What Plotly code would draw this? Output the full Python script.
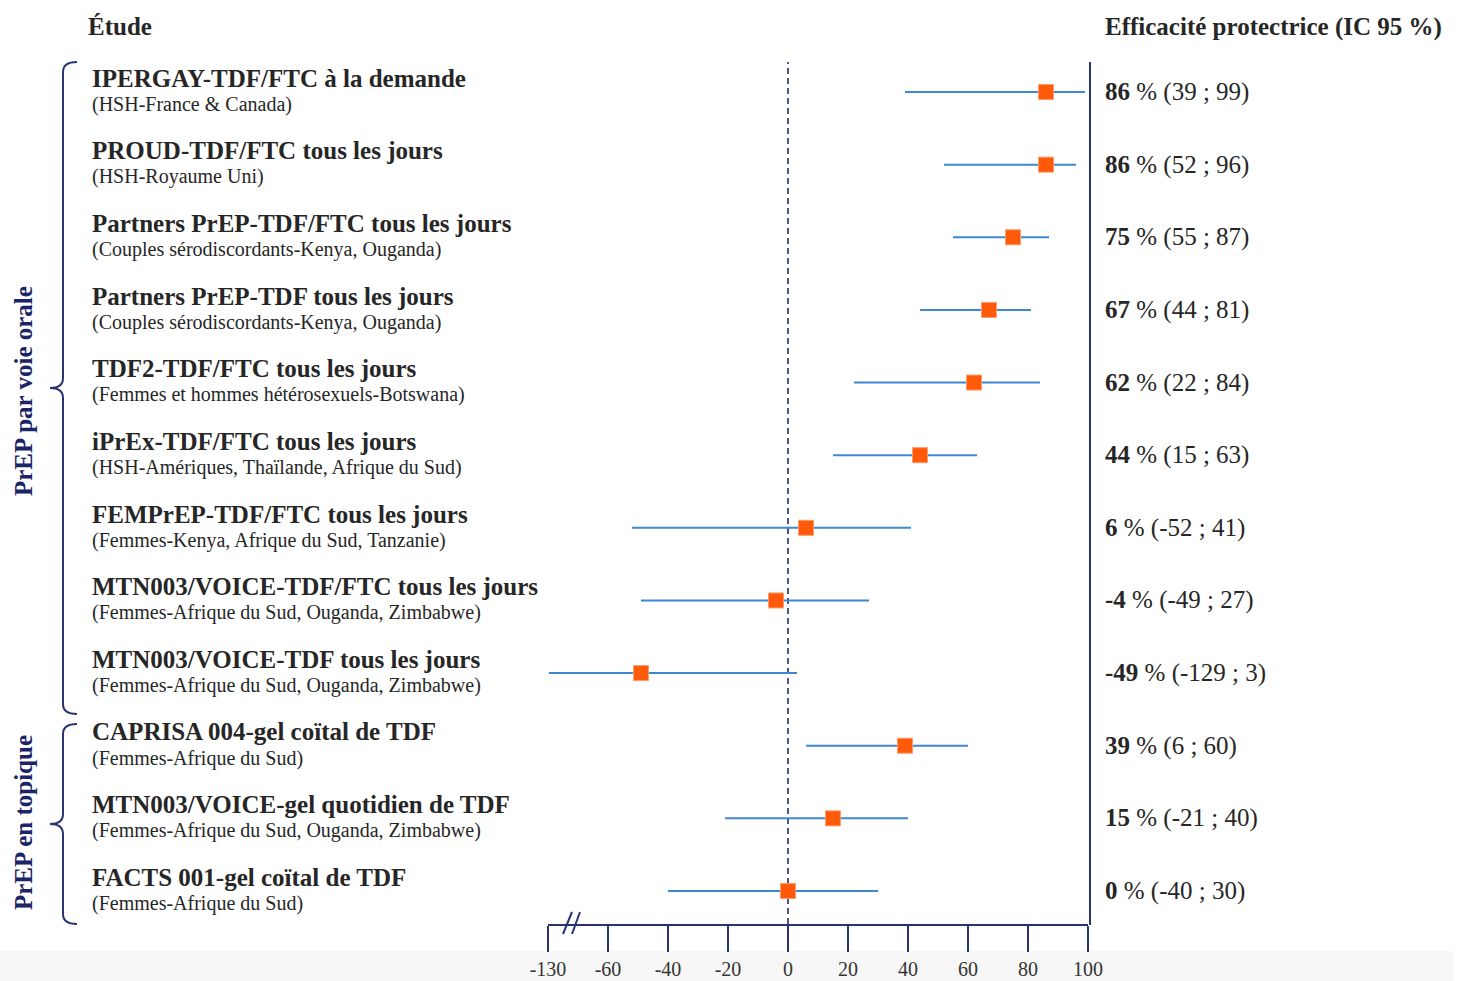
import plotly.graph_objects as go

# ---------------- data ----------------
study_names = [
    "IPERGAY-TDF/FTC à la demande",
    "PROUD-TDF/FTC tous les jours",
    "Partners PrEP-TDF/FTC tous les jours",
    "Partners PrEP-TDF tous les jours",
    "TDF2-TDF/FTC tous les jours",
    "iPrEx-TDF/FTC tous les jours",
    "FEMPrEP-TDF/FTC tous les jours",
    "MTN003/VOICE-TDF/FTC tous les jours",
    "MTN003/VOICE-TDF tous les jours",
    "CAPRISA 004-gel coïtal de TDF",
    "MTN003/VOICE-gel quotidien de TDF",
    "FACTS 001-gel coïtal de TDF",
]
populations = [
    "(HSH-France & Canada)",
    "(HSH-Royaume Uni)",
    "(Couples sérodiscordants-Kenya, Ouganda)",
    "(Couples sérodiscordants-Kenya, Ouganda)",
    "(Femmes et hommes hétérosexuels-Botswana)",
    "(HSH-Amériques, Thaïlande, Afrique du Sud)",
    "(Femmes-Kenya, Afrique du Sud, Tanzanie)",
    "(Femmes-Afrique du Sud, Ouganda, Zimbabwe)",
    "(Femmes-Afrique du Sud, Ouganda, Zimbabwe)",
    "(Femmes-Afrique du Sud)",
    "(Femmes-Afrique du Sud, Ouganda, Zimbabwe)",
    "(Femmes-Afrique du Sud)",
]
efficacy = [86, 86, 75, 67, 62, 44, 6, -4, -49, 39, 15, 0]
ci_low = [39, 52, 55, 44, 22, 15, -52, -49, -129, 6, -21, -40]
ci_high = [99, 96, 87, 81, 84, 63, 41, 27, 3, 60, 40, 30]

tick_values = [-130, -60, -40, -20, 0, 20, 40, 60, 80, 100]
tick_labels = ["-130", "-60", "-40", "-20", "0", "20", "40", "60", "80", "100"]

groups = ["PrEP par voie orale", "PrEP en topique"]

# ---------------- broken-axis scale ----------------
BREAK_FROM = -60   # values below are compressed
BREAK_MIN = -130
BREAK_POS = -80    # display position of -130


def scale(v):
    if v >= BREAK_FROM:
        return v
    return BREAK_POS + (v - BREAK_MIN) * (BREAK_FROM - BREAK_POS) / (BREAK_FROM - BREAK_MIN)


# ---------------- geometry helpers (page pixels -> paper) ----------------
W, H = 1459, 981
L, R, T, B = 548, 1088, 62, 924   # plot area in page pixels


def px(x):
    return (x - L) / (R - L)


def py(y):
    return (B - y) / (B - T)


NAVY = "#2b3270"
TXT = "#262626"
SERIF = "Liberation Serif"

rows = list(range(len(study_names)))

fig = go.Figure()

# CI lines
xs, ys = [], []
for i, lo, hi in zip(rows, ci_low, ci_high):
    xs += [scale(lo), scale(hi), None]
    ys += [i, i, None]
fig.add_trace(go.Scatter(x=xs, y=ys, mode="lines",
                         line=dict(color="#3d88d3", width=2),
                         hoverinfo="skip", showlegend=False))

# point estimates
fig.add_trace(go.Scatter(x=[scale(v) for v in efficacy], y=rows, mode="markers",
                         marker=dict(symbol="square", size=15, color="#ff5a0a",
                                     line=dict(color="#ff9a6a", width=1)),
                         showlegend=False))

shapes = []
# zero dashed line
shapes.append(dict(type="line", xref="x", yref="paper", x0=0, x1=0, y0=0, y1=1,
                   line=dict(color="#4f5580", width=2, dash="6px,4px"), layer="below"))
# right vertical line
shapes.append(dict(type="line", xref="paper", yref="paper", x0=px(1090), x1=px(1090),
                   y0=py(925), y1=1, line=dict(color=NAVY, width=2)))
# axis break marks
for xa, xb in [(563, 572), (572, 580)]:
    shapes.append(dict(type="line", xref="paper", yref="paper",
                       x0=px(xa), x1=px(xb), y0=py(934), y1=py(912),
                       line=dict(color=NAVY, width=2)))
# bottom grey band
shapes.append(dict(type="rect", xref="paper", yref="paper", x0=px(0), x1=px(1453),
                   y0=py(981), y1=py(951), fillcolor="#f7f7f7", line=dict(width=0),
                   layer="below"))


# braces
def brace(top, bottom, mid):
    c = 63
    hook = 77
    tip = 50
    r = 10
    pts = [
        f"M {px(hook)},{py(top)}",
        f"Q {px(c)},{py(top)} {px(c)},{py(top + r)}",
        f"L {px(c)},{py(mid - r)}",
        f"Q {px(c)},{py(mid)} {px(tip)},{py(mid)}",
        f"Q {px(c)},{py(mid)} {px(c)},{py(mid + r)}",
        f"L {px(c)},{py(bottom - r)}",
        f"Q {px(c)},{py(bottom)} {px(hook)},{py(bottom)}",
    ]
    return dict(type="path", xref="paper", yref="paper", path=" ".join(pts),
                line=dict(color=NAVY, width=2))


shapes.append(brace(62, 714, 388))
shapes.append(brace(724, 924, 824))

annotations = []
for i in rows:
    annotations.append(dict(xref="paper", yref="y", x=px(90), y=i - 0.19,
                            xanchor="left", yanchor="middle", showarrow=False,
                            text=f"<b>{study_names[i]}</b>",
                            font=dict(family=SERIF, size=25, color=TXT)))
    annotations.append(dict(xref="paper", yref="y", x=px(90), y=i + 0.17,
                            xanchor="left", yanchor="middle", showarrow=False,
                            text=populations[i],
                            font=dict(family=SERIF, size=20, color=TXT)))
    annotations.append(dict(xref="paper", yref="y", x=px(1103), y=i,
                            xanchor="left", yanchor="middle", showarrow=False,
                            text=f"<b>{efficacy[i]}</b> % ({ci_low[i]} ; {ci_high[i]})",
                            font=dict(family=SERIF, size=25, color=TXT)))

annotations.append(dict(xref="paper", yref="paper", x=px(86), y=py(27),
                        xanchor="left", yanchor="middle", showarrow=False,
                        text="<b>Étude</b>", font=dict(family=SERIF, size=25, color=TXT)))
annotations.append(dict(xref="paper", yref="paper", x=px(1103), y=py(27),
                        xanchor="left", yanchor="middle", showarrow=False,
                        text="<b>Efficacité protectrice (IC 95 %)</b>",
                        font=dict(family=SERIF, size=25, color=TXT)))
annotations.append(dict(xref="paper", yref="paper", x=px(23), y=py(391),
                        xanchor="center", yanchor="middle", showarrow=False, textangle=-90,
                        text=f"<b>{groups[0]}</b>",
                        font=dict(family=SERIF, size=25, color="#1c2468")))
annotations.append(dict(xref="paper", yref="paper", x=px(23), y=py(823),
                        xanchor="center", yanchor="middle", showarrow=False, textangle=-90,
                        text=f"<b>{groups[1]}</b>",
                        font=dict(family=SERIF, size=25, color="#1c2468")))

n = len(rows)
row_px = (891 - 92) / (n - 1)
y_top = 0 - (92 - T) / row_px
y_bot = (n - 1) + (B - 891) / row_px

fig.update_layout(
    width=W, height=H,
    margin=dict(l=L, r=W - R, t=T, b=H - B, autoexpand=False),
    paper_bgcolor="white", plot_bgcolor="white",
    shapes=shapes, annotations=annotations,
    showlegend=False,
    xaxis=dict(range=[scale(-130), 100], tickmode="array", automargin=False,
               tickvals=[scale(v) for v in tick_values], ticktext=tick_labels,
               showgrid=False, zeroline=False, showline=True, linecolor=NAVY, linewidth=2,
               ticks="outside", ticklen=26, tickwidth=2, tickcolor=NAVY,
               tickfont=dict(family=SERIF, size=20, color="#333333")),
    yaxis=dict(range=[y_bot, y_top], showgrid=False, zeroline=False, automargin=False,
               showticklabels=False, showline=False, ticks=""),
)

fig.write_html(
    "out.html",
    config={"displayModeBar": False},
    post_script="document.body.style.margin='0';document.body.style.overflow='hidden';",
)
